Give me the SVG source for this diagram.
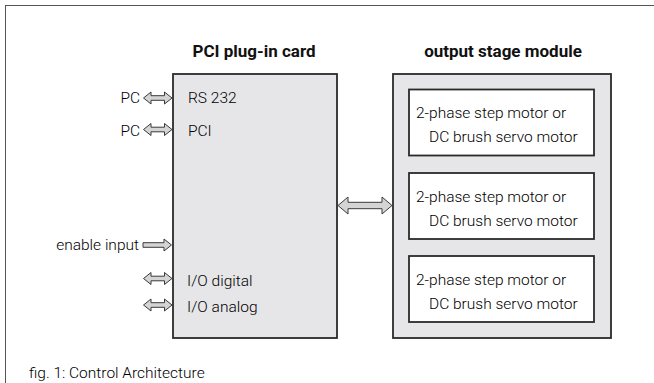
<svg xmlns="http://www.w3.org/2000/svg" width="654" height="383" viewBox="0 0 654 383">
<style>
.t{font-family:Roboto,"Liberation Sans",Arial,sans-serif;font-size:15.5px;font-weight:300;fill:#000}
.b{font-family:Roboto,"Liberation Sans",Arial,sans-serif;font-size:17px;font-weight:bold;fill:#111;text-anchor:middle}
.box{fill:#e6e6e8;stroke:#2a2a2a;stroke-width:1.8}
.inner{fill:#ffffff;stroke:#2a2a2a;stroke-width:1.8}
.arr{fill:#d4d4d4;stroke:#3a3a3a;stroke-width:1}
</style>
<defs>
<path id="dbl" d="M0,0 L7.5,-6 L7.5,-2.3 L21,-2.3 L21,-6 L28.5,0 L21,6 L21,2.3 L7.5,2.3 L7.5,6 Z"/>
<path id="sgl" d="M0,-2.3 L21,-2.3 L21,-6 L28.5,0 L21,6 L21,2.3 L0,2.3 Z"/>
</defs>
<g id="frame" fill="none" stroke="#555" stroke-width="1">
<line x1="5" y1="5.5" x2="654" y2="5.5"/>
<line x1="5.5" y1="5" x2="5.5" y2="383"/>
</g>
<g id="pci-card">
<text class="b" x="254" y="57">PCI plug-in card</text>
<rect class="box" x="173" y="74" width="164" height="264"/>
<text class="t" x="188" y="103">RS 232</text>
<text class="t" x="188" y="135.5">PCI</text>
<text class="t" x="187" y="286">I/O digital</text>
<text class="t" x="187" y="312">I/O analog</text>
</g>
<g id="left-labels">
<text class="t" x="140" y="103" text-anchor="end">PC</text>
<text class="t" x="140" y="135.5" text-anchor="end">PC</text>
<text class="t" x="139" y="250" text-anchor="end">enable input</text>
</g>
<g id="output-module">
<text class="b" x="503" y="57">output stage module</text>
<rect class="box" x="393" y="74" width="218" height="264"/>
</g>
<g id="motor1">
<rect class="inner" x="409" y="89.5" width="185" height="66"/>
<text class="t" x="416" y="118">2-phase step motor or</text>
<text class="t" x="429" y="142">DC brush servo motor</text>
</g>
<g id="motor2">
<rect class="inner" x="409" y="173" width="185" height="66"/>
<text class="t" x="416" y="201.5">2-phase step motor or</text>
<text class="t" x="429" y="225.5">DC brush servo motor</text>
</g>
<g id="motor3">
<rect class="inner" x="409" y="256" width="185" height="66"/>
<text class="t" x="416" y="284.5">2-phase step motor or</text>
<text class="t" x="429" y="308.5">DC brush servo motor</text>
</g>
<g id="connectors">
<use href="#dbl" class="arr" transform="translate(143.5,98)"/>
<use href="#dbl" class="arr" transform="translate(143.5,129.5)"/>
<use href="#sgl" class="arr" transform="translate(143,245)"/>
<use href="#dbl" class="arr" transform="translate(143.5,278.5)"/>
<use href="#dbl" class="arr" transform="translate(143.5,305)"/>
<path class="arr" d="M338,205.5 L348,197 L348,202.3 L382,202.3 L382,197 L392,205.5 L382,214 L382,208.7 L348,208.7 L348,214 Z"/>
</g>
<text class="t" x="29" y="378">fig. 1: Control Architecture</text>
</svg>
